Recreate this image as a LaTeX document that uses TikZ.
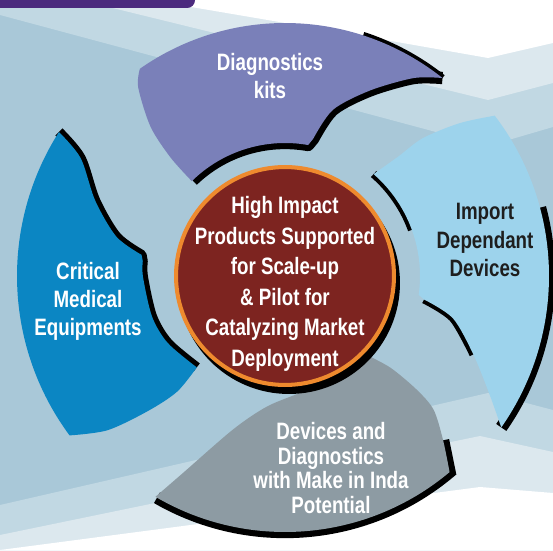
\documentclass[tikz,border=0pt]{standalone}
\usepackage{fontspec}
\newfontfamily\labelfont{Liberation Sans}[FakeStretch=0.79]
\usetikzlibrary{calc}

\definecolor{bgmain}{HTML}{A9C8D8}
\definecolor{bgmid}{HTML}{C1D8E3}
\definecolor{bgpale}{HTML}{DCE8EE}
\definecolor{tabviolet}{HTML}{4B2A7E}
\definecolor{kitsviolet}{HTML}{7A80B9}
\definecolor{criticalblue}{HTML}{0B86C3}
\definecolor{importblue}{HTML}{9DD3EC}
\definecolor{makegrey}{HTML}{8D9BA3}
\definecolor{hubred}{HTML}{7D2420}
\definecolor{hubring}{HTML}{EE8A2E}
\definecolor{darktext}{HTML}{1E1E1E}

\tikzset{
    petalshadow/.style = {draw=black, line width=#1},
    petalshadow/.default = 7pt,
    hub/.style = {circle, fill=hubred, draw=hubring, line width=2.3pt,
        minimum size=4.36cm, inner sep=0pt},
    hubshadow/.style = {circle, fill=black, minimum size=4.44cm, inner sep=0pt},
    petaltext/.style = {align=center, inner sep=0pt,
        font=\labelfont\bfseries\fontsize{13.5}{#1}\selectfont}
}

\begin{document}
\begin{tikzpicture}[x=0.02cm, y=-0.02cm]
    \useasboundingbox (0,0) rectangle (553,550);
    \clip (0,0) rectangle (553,550);
    % background bands
    \fill[bgmain] (0,0) rectangle (553,550);
    \fill[bgmid] (0,0) -- (0,15) -- (488,146) -- (553,127) -- (553,0) -- cycle;
    \fill[bgpale] (80,0) -- (488,100) -- (553,83) -- (553,0) -- cycle;
    \fill[white] (150,0) -- (397,42) -- (488,58) -- (553,43) -- (553,0) -- cycle;
    \fill[bgmid] (0,505) -- (488,393) -- (553,410) -- (553,550) -- (0,550) -- cycle;
    \fill[bgpale] (0,535) -- (480,436) -- (553,452) -- (553,550) -- (0,550) -- cycle;
    \fill[white] (0,550) -- (480,487) -- (553,493) -- (553,550) -- cycle;
    \fill[tabviolet, rounded corners=4.5pt] (-10,-20) -- (195,-20) -- (195,8) -- (-10,8) -- cycle;

    \begin{scope}[shift={(285,276)}, y=0.02cm]
        % shadows
        \draw[petalshadow=4pt] (72:253) arc[start angle=72, end angle=51.5, radius=253];
        \draw[petalshadow, line join=round] plot[smooth] coordinates {(51.5:253) (57:236) (65.4:204) (73.9:173) (78.4:140)}
            -- (80:133) arc[start angle=80, end angle=134, radius=133];
        \draw[petalshadow=5.7pt, line join=round] plot[smooth] coordinates {(147.5:268) (150:236) (158.4:204) (166.9:173) (171.6:145)}
            -- plot[smooth] coordinates {(174:143) (180.4:142) (197:139) (209.8:135) (226:127)};
        \draw[petalshadow] (15:264) arc[start angle=15, end angle=-35, radius=264];
        \draw[petalshadow=4.5pt] plot[smooth] coordinates {(-9.6:141) (-14.1:173) (-22.6:204)};
        \draw[petalshadow=4.5pt] (49:135) arc[start angle=49, end angle=20, radius=135];
        \draw[petalshadow] (240:256) arc[start angle=240, end angle=310, radius=256]
            -- plot[smooth] coordinates {(310:256) (313.9:228)};
        % petals
        \fill[kitsviolet] (125:253) arc[start angle=125, end angle=51.5, radius=253]
            -- plot[smooth] coordinates {(51.5:253) (57:236) (65.4:204) (73.9:173) (78.4:140)}
            -- (80:133) arc[start angle=80, end angle=134.5, radius=133]
            -- plot[smooth] coordinates {(134.5:133) (134:165) (132:201) (127.9:239) (125:253)} -- cycle;
        \fill[criticalblue] (147.5:268) arc[start angle=147.5, end angle=216.5, radius=268]
            -- plot[smooth] coordinates {(216.5:268) (221:235) (224.6:192) (227:158) (226:127)}
            -- plot[smooth] coordinates {(226:127) (209.8:135) (197:139) (180.4:142) (174:143)}
            -- (171.6:145)
            -- plot[smooth] coordinates {(171.6:145) (166.9:173) (158.4:204) (150:236) (147.5:268)} -- cycle;
        \fill[importblue] (37.4:264) arc[start angle=37.4, end angle=-35, radius=264]
            -- plot[smooth] coordinates {(-35:264) (-30:236) (-22.6:204) (-14.1:173) (-9.6:141)}
            -- (-8:135) arc[start angle=-8, end angle=49, radius=135]
            -- plot[smooth] coordinates {(49:135) (46.5:165) (45:195) (41.2:232) (37.4:264)} -- cycle;
        \fill[makegrey] (239.6:256) arc[start angle=239.6, end angle=310, radius=256]
            -- plot[smooth] coordinates {(310:256) (313.9:228) (318:200) (319.2:174) (319:140) (316:114)}
            -- plot[smooth] coordinates {(316:114) (297:114) (277:118) (262:132) (251.3:162) (242.6:222) (239.6:256)} -- cycle;
    \end{scope}

    \node[hubshadow] (hubshade) at (289,283) {};
    \node[hub] (hub) at (285,276) {};
    \node[petaltext=17.4, text=white] (hubtext) at (285,284) {High Impact\\Products Supported\\for Scale-up\\\& Pilot for\\Catalyzing Market\\Deployment};
    \node[petaltext=16.2, text=white] (kits) at (270,76) {Diagnostics\\kits};
    \node[petaltext=16, text=darktext] (import) at (485,240) {Import\\Dependant\\Devices};
    \node[petaltext=15.9, text=white] (critical) at (88,301) {Critical\\Medical\\Equipments};
    \node[petaltext=13.9, text=white] (make) at (331,468) {Devices and\\Diagnostics\\with Make in Inda\\Potential};
\end{tikzpicture}
\end{document}
